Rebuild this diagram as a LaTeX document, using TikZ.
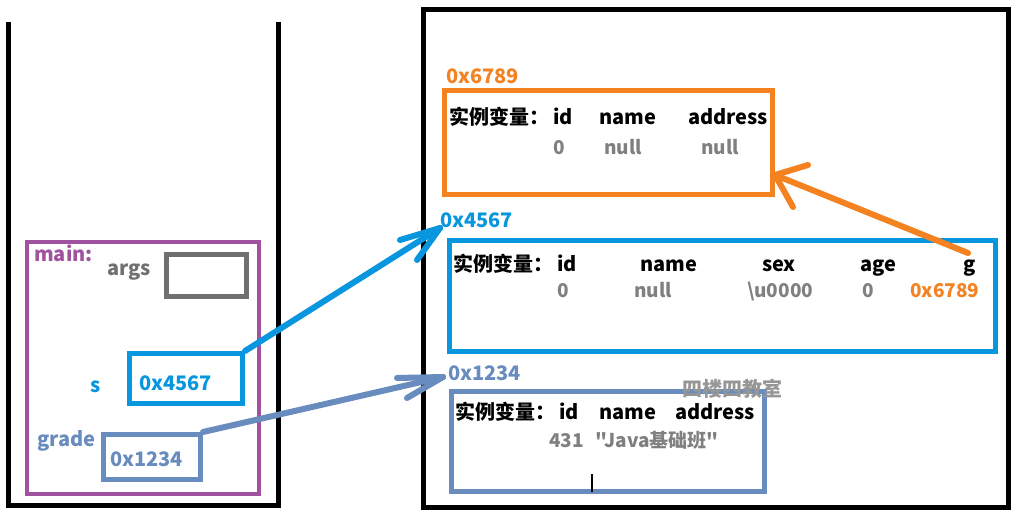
\documentclass[tikz,border=0pt]{standalone}
\usepackage{fontspec}
\usetikzlibrary{calc}
\setmainfont{Noto Sans CJK SC}
\newfontfamily\plainfont{Noto Sans CJK SC}
\definecolor{cOrange}{RGB}{245,130,32}
\definecolor{cBlue}{RGB}{8,150,222}
\definecolor{cSteel}{RGB}{104,140,190}
\definecolor{cPurple}{RGB}{160,82,160}
\definecolor{cBoxGray}{RGB}{112,112,112}
\definecolor{cVal}{RGB}{128,128,128}
\definecolor{cRoom}{RGB}{150,150,150}
\tikzset{
  frame/.style={draw=black,line width=5pt},
  box/.style={rectangle,draw,line width=5pt,inner sep=0pt,anchor=north west},
  lab/.style={anchor=base west,inner sep=0pt,font=\bfseries\fontsize{20}{24}\selectfont},
  val/.style={anchor=base west,inner sep=0pt,text=cVal,font=\bfseries\fontsize{19}{23}\selectfont},
  addr/.style={anchor=base west,inner sep=0pt,font=\bfseries\fontsize{20}{24}\selectfont},
  conn/.style={line width=6pt,line cap=round,line join=round},
}
\begin{document}
\begin{tikzpicture}[x=1pt,y=-1pt]
\useasboundingbox[fill=white] (0,0) rectangle (1027,518);
% stack
\draw[frame] (8,22) -- (8,505) -- (278,505) -- (278,22);
% heap
\draw[frame] (423,10) rectangle (1008,507);
% main frame
\node[box,draw=cPurple,line width=4pt,minimum width=232pt,minimum height=252pt] (main) at (25,240) {};
\node[addr,text=cPurple] (mainlab) at (34,262) {main:};
\node[addr,text=cBoxGray] (argslab) at (107,276) {args};
\node[box,draw=cBoxGray,minimum width=80pt,minimum height=42pt] (args) at (164,252) {};
\node[addr,text=cBlue] (slab) at (90,392) {s};
\node[box,draw=cBlue,minimum width=113pt,minimum height=50pt] (sbox) at (127,351) {};
\node[addr,text=cBlue] (sval) at (139,390) {0x4567};
\node[addr,text=cSteel] (gradelab) at (37,446) {grade};
\node[box,draw=cSteel,minimum width=97pt,minimum height=45pt] (gbox) at (101,432) {};
\node[addr,text=cSteel] (gval) at (110,466) {0x1234};
% object 0x6789
\node[addr,text=cOrange] (a6789) at (446,84) {0x6789};
\node[box,draw=cOrange,minimum width=328pt,minimum height=104pt] (obj6789) at (442,88) {};
\node[lab] (o1) at (449,125) {实例变量：};
\node[lab] (o2) at (553,125) {id};
\node[lab] (o3) at (599,125) {name};
\node[lab] (o4) at (688,125) {address};
\node[val] (o5) at (553,155) {0};
\node[val] (o6) at (604,155) {null};
\node[val] (o7) at (701,155) {null};
% object 0x4567
\node[addr,text=cBlue] (a4567) at (440,228) {0x4567};
\node[box,draw=cBlue,minimum width=546pt,minimum height=111pt] (obj4567) at (447,238) {};
\node[lab] (b1) at (453,272) {实例变量：};
\node[lab] (b2) at (557,272) {id};
\node[lab] (b3) at (640,272) {name};
\node[lab] (b4) at (762,272) {sex};
\node[lab] (b5) at (860,272) {age};
\node[lab] (b6) at (963,272) {g};
\node[val] (b7) at (557,298) {0};
\node[val] (b8) at (634,298) {null};
\node[val] (b9) at (747,298) {\textbackslash u0000};
\node[val] (b10) at (862,298) {0};
\node[val,text=cOrange] (b11) at (910,298) {0x6789};
% object 0x1234
\node[addr,text=cSteel] (a1234) at (448,380) {0x1234};
\node[box,draw=cSteel,minimum width=313pt,minimum height=100pt] (obj1234) at (449,389) {};
\node[anchor=base west,inner sep=0pt,text=cRoom,font=\bfseries\fontsize{20}{24}\selectfont] (room) at (682,396) {四楼四教室};
\node[lab] (c1) at (455,419) {实例变量：};
\node[lab] (c2) at (559,419) {id};
\node[lab] (c3) at (599,419) {name};
\node[lab] (c4) at (675,419) {address};
\node[val] (c5) at (549,447) {431};
\node[val] (c6) at (595,447) {\plainfont\bfseries "Java基础班"};
% cursor
\coordinate (cursor) at (592,483);
\draw[line width=1.5pt] ($(cursor)+(0,-9)$) -- ($(cursor)+(0,9)$);
% arrows
\coordinate (tipS) at (440,228);
\coordinate (tipG) at (443,377);
\coordinate (tipO) at (775,175);
\coordinate (gref) at (968,253);
\draw[conn,cBlue] (sbox.north east) -- (tipS);
\draw[conn,cBlue] (tipS) -- ++(-40,12);
\draw[conn,cBlue] (tipS) -- ++(-23,32);
\draw[conn,cSteel] (gbox.north east) -- (tipG);
\draw[conn,cSteel] (tipG) -- ++(-46,1);
\draw[conn,cSteel] (tipG) -- ++(-36,21);
\draw[conn,cOrange] (gref) -- (tipO);
\draw[conn,cOrange] (tipO) -- ++(33,-10);
\draw[conn,cOrange] (tipO) -- ++(18,32);
\end{tikzpicture}
\end{document}
